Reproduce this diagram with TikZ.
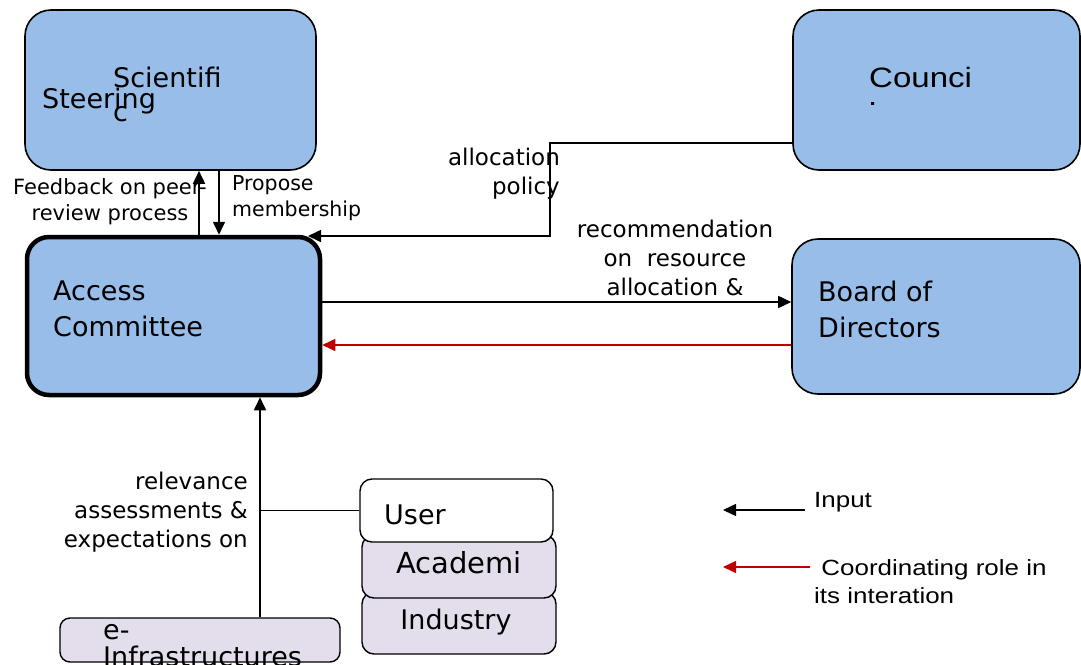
\documentclass[tikz,border=0pt]{standalone}
\usepackage{fontspec}
\setmainfont{DejaVu Sans}
\newfontfamily\arialf{Liberation Sans}[FakeStretch=1.18]
\usetikzlibrary{arrows.meta}
\definecolor{boxblue}{RGB}{151,189,232}
\definecolor{lav}{RGB}{228,222,236}
\definecolor{rolered}{RGB}{192,0,0}
\begin{document}
\begin{tikzpicture}[x=1pt,y=-1pt,
  bluebox/.style={draw, line width=1.6pt, rounded corners=26pt, fill=boxblue, inner sep=0pt},
  userbox/.style={draw, line width=1.4pt, rounded corners=12pt, inner sep=0pt},
  bigtxt/.style={inner sep=0pt, font=\fontsize{27}{36}\selectfont, align=left},
  lbl/.style={inner sep=0pt, font=\fontsize{21}{26}\selectfont},
  midlbl/.style={inner sep=0pt, font=\fontsize{23}{29}\selectfont},
  arialtxt/.style={inner sep=0pt, font=\arialf\fontsize{22}{28}\selectfont},
  arr/.style={line width=1.6pt, -{Triangle[length=13pt,width=12pt]}},
  redarr/.style={arr, draw=rolered, -{Triangle[length=13pt,width=12pt,fill=rolered]}}]
\useasboundingbox (0,0) rectangle (1081,664);
\clip (0,0) rectangle (1081,664);

% main bodies
\node[bluebox, minimum width=291pt, minimum height=160pt] (sci) at (170.5,90) {};
\node[bluebox, minimum width=287pt, minimum height=160pt] (cou) at (936.5,90) {};
\node[bluebox, line width=4.5pt, rounded corners=22pt, minimum width=293pt, minimum height=158pt] (acc) at (173.5,316) {};
\node[bluebox, minimum width=288pt, minimum height=155pt] (bod) at (936,316.5) {};

% user stack
\node[userbox, fill=lav, minimum width=194pt, minimum height=62pt] (ind) at (459,623) {};
\node[userbox, fill=lav, minimum width=194pt, minimum height=63pt] (aca) at (459,566.5) {};
\node[userbox, fill=white, minimum width=193pt, minimum height=63pt] (usr) at (456.5,510.5) {};
\node[userbox, fill=lav, rounded corners=10pt, minimum width=280pt, minimum height=44pt] (einf) at (200,640) {};

% box texts
\node[bigtxt, anchor=west] (t1) at (113,77) {Scientifi};
\node[bigtxt, anchor=west] (t2) at (42,101) {Steering};
\node[bigtxt, anchor=west] (t3) at (113,114) {c};
\node[inner sep=0pt, anchor=west, font=\arialf\fontsize{28}{36}\selectfont] (t4) at (869,77) {Counci};
\node[inner sep=0pt, anchor=west, font=\arialf\fontsize{28}{36}\selectfont] (t5) at (868,104) {.};
\node[bigtxt, anchor=west] (t6) at (53,309) {Access\\Committee};
\node[bigtxt, anchor=west] (t7) at (818,309) {Board of\\Directors};
\node[bigtxt, anchor=west] (t8) at (384,515) {User};
\node[bigtxt, font=\fontsize{29}{36}\selectfont] (t9) at (459,563) {Academi};
\node[bigtxt] (t10) at (456,622) {Industry};
\node[bigtxt, anchor=west, font=\fontsize{27}{27}\selectfont] (t11) at (103,646) {e-\\Infrastructures};

% connector labels
\node[lbl, align=center] (l1) at (110,202) {Feedback on peer-\\review process};
\node[lbl, align=left, anchor=west, font=\fontsize{20.5}{26}\selectfont] (l2) at (232,198) {Propose\\membership};
\node[midlbl, align=right, anchor=east] (l3) at (560,174) {allocation\\policy};
\node[midlbl, align=center] (l4) at (675,258) {recommendation\\on\ \ resource\\allocation \&};
\node[lbl, align=right, anchor=east, font=\fontsize{23}{29}\selectfont] (l5) at (248,512) {relevance\\assessments \&\\expectations on};

% connectors
\coordinate (fbx) at (199,0);
\coordinate (ppx) at (219,0);
\draw[arr] (acc.north -| fbx) -- (sci.south -| fbx);
\draw[arr] (sci.south -| ppx) -- (acc.north -| ppx);
\coordinate (apy) at (0,143);
\coordinate (apbend) at (550,236);
\coordinate (apend) at (308,236);
\draw[arr] (cou.west |- apy) -| (apbend) -- (apend);
\coordinate (recy) at (0,302);
\coordinate (redy) at (0,345);
\draw[arr] (acc.east |- recy) -- (bod.west |- recy);
\draw[redarr] (bod.west |- redy) -- (acc.east |- redy);
\coordinate (relx) at (260,0);
\draw[arr] (einf.north -| relx) -- (acc.south -| relx);
\draw[line width=1.6pt] (usr.west) -- (usr.west -| relx);

% legend
\coordinate (k1a) at (805,510);
\coordinate (k1b) at (723,510);
\coordinate (k2a) at (810,567);
\coordinate (k2b) at (723,567);
\draw[arr, line width=1.4pt] (k1a) -- (k1b);
\draw[redarr, line width=1.4pt] (k2a) -- (k2b);
\node[arialtxt, anchor=west] (k1) at (814,502) {Input};
\node[arialtxt, anchor=west, align=left] (k2) at (814,582) {\ Coordinating role in\\its interation};
\end{tikzpicture}
\end{document}
